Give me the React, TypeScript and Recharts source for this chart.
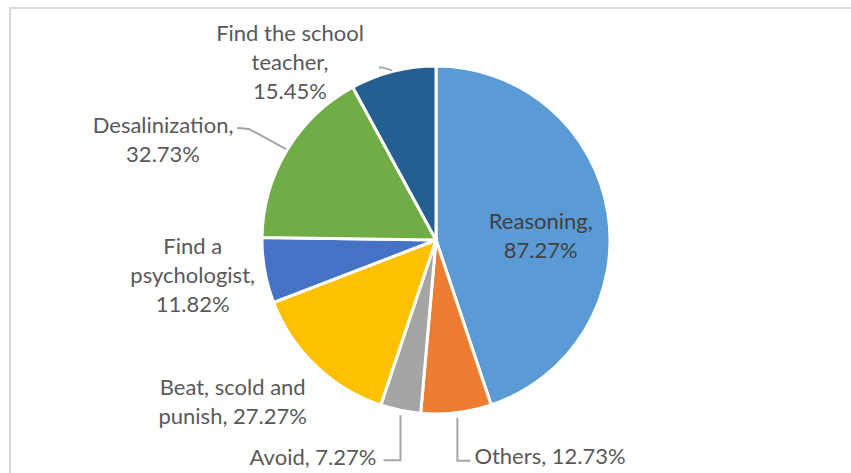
import React from "react";
import { PieChart, Pie, Cell } from "recharts";

const categories = [
    "Reasoning",
    "Others",
    "Avoid",
    "Beat, scold and punish",
    "Find a psychologist",
    "Desalinization",
    "Find the school teacher",
];
const shares = [87.27, 12.73, 7.27, 27.27, 11.82, 32.73, 15.45];
const colors = ["#5B9BD5", "#ED7D31", "#A5A5A5", "#FFC000", "#4472C4", "#70AD47", "#255E91"];

// label placement relative to the slice's outer edge point (Excel-ish manual layout)
const labelLayouts = [
    { dx: -67, dy: 23, anchor: "middle", wrap: [1, 1], leader: null },
    { dx: 18, dy: 43, anchor: "start", wrap: [2], leader: [[1, 5], [1, 48], [14, 48]] },
    { dx: -24, dy: 46, anchor: "end", wrap: [2], leader: [[0, 5], [0, 50], [-17, 50]] },
    { dx: -83, dy: 35, anchor: "middle", wrap: [3, 2], leader: null },
    { dx: -72, dy: 4, anchor: "middle", wrap: [2, 1, 1], leader: null },
    { dx: -124, dy: -11, anchor: "middle", wrap: [1, 1], leader: [[-1, -1], [-38, -21], [-50, -22]] },
    { dx: -103, dy: -10, anchor: "middle", wrap: [3, 1, 1], leader: [[-1, -1], [-11, -4], [-14, -4]] },
];

const data = categories.map((name, i) => ({ name, value: shares[i] }));

const LINE_H = 29;

const renderLabel = (props: any) => {
    const { cx, cy, midAngle, outerRadius, index } = props;
    const rad = Math.PI / 180;
    const px = cx + outerRadius * Math.cos(-midAngle * rad);
    const py = cy + outerRadius * Math.sin(-midAngle * rad);
    const lay = labelLayouts[index];

    const words = `${categories[index]}, ${shares[index].toFixed(2)}%`.split(" ");
    const lines: string[] = [];
    let k = 0;
    lay.wrap.forEach((n) => {
        lines.push(words.slice(k, k + n).join(" "));
        k += n;
    });

    const tx = px + lay.dx;
    const ty = py + lay.dy;
    const color = index === 0 ? "#404040" : "#595959";

    return (
        <g key={`lbl-${index}`}>
            {lay.leader && (
                <polyline
                    points={lay.leader.map(([a, b]) => `${px + a},${py + b}`).join(" ")}
                    fill="none"
                    stroke="#a6a6a6"
                    strokeWidth={2}
                />
            )}
            <text
                x={tx}
                y={ty}
                textAnchor={lay.anchor as any}
                fill={color}
                fontSize={22}
                fontFamily="Lato, 'Open Sans', sans-serif"
            >
                {lines.map((ln, i) => (
                    <tspan key={i} x={tx} y={ty + (i - (lines.length - 1) / 2) * LINE_H} dominantBaseline="central">
                        {ln}
                    </tspan>
                ))}
            </text>
        </g>
    );
};

export default function App() {
    return (
        <div style={{ position: "fixed", left: 0, top: 0, width: 851, height: 473, background: "#fff", overflow: "hidden" }}>
            <div
                style={{
                    position: "absolute",
                    left: 9,
                    top: 7,
                    width: 900,
                    height: 520,
                    borderTop: "2px solid #d9d9d9",
                    borderLeft: "2px solid #d9d9d9",
                }}
            />
            <div style={{ position: "absolute", left: 0, top: 0 }}>
                <PieChart width={851} height={473} margin={{ top: 0, right: 0, bottom: 0, left: 0 }}>
                    <Pie
                        data={data}
                        dataKey="value"
                        nameKey="name"
                        cx={436}
                        cy={240}
                        outerRadius={174}
                        startAngle={90}
                        endAngle={-270}
                        stroke="#fff"
                        strokeWidth={3}
                        label={renderLabel}
                        labelLine={false}
                        isAnimationActive={false}
                    >
                        {data.map((d, i) => (
                            <Cell key={d.name} fill={colors[i]} />
                        ))}
                    </Pie>
                </PieChart>
            </div>
        </div>
    );
}
